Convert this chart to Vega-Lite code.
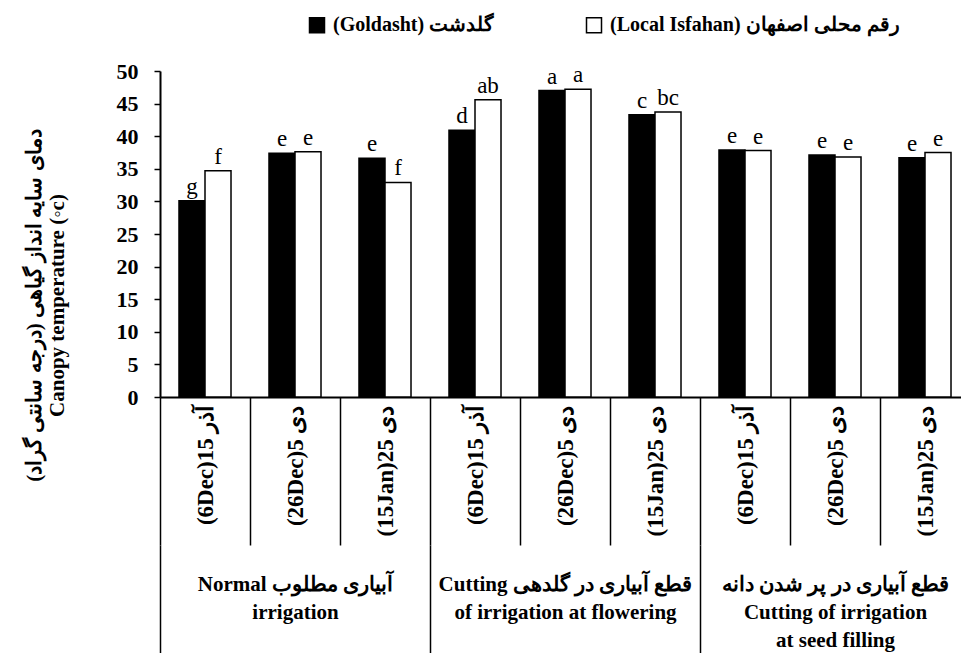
{
  "$schema": "https://vega.github.io/schema/vega-lite/v6.json",
  "width": 801,
  "height": 326,
  "autosize": {"type": "none"},
  "padding": {"left": 160, "top": 71, "right": 0, "bottom": 256},
  "background": "white",
  "config": {"view": {"stroke": null}, "font": "Liberation Serif"},
  "datasets": {
    "bars": [
      {"cat": "N1|(6Dec)15 آذر", "cultivar": "(Goldasht) گلدشت", "value": 30.1, "letter": "g"},
      {"cat": "N1|(6Dec)15 آذر", "cultivar": "(Local Isfahan) رقم محلی اصفهان", "value": 34.7, "letter": "f"},
      {"cat": "N2|(26Dec)5 دی", "cultivar": "(Goldasht) گلدشت", "value": 37.4, "letter": "e"},
      {"cat": "N2|(26Dec)5 دی", "cultivar": "(Local Isfahan) رقم محلی اصفهان", "value": 37.6, "letter": "e"},
      {"cat": "N3|(15Jan)25 دی", "cultivar": "(Goldasht) گلدشت", "value": 36.6, "letter": "e"},
      {"cat": "N3|(15Jan)25 دی", "cultivar": "(Local Isfahan) رقم محلی اصفهان", "value": 32.9, "letter": "f"},
      {"cat": "F1|(6Dec)15 آذر", "cultivar": "(Goldasht) گلدشت", "value": 40.9, "letter": "d"},
      {"cat": "F1|(6Dec)15 آذر", "cultivar": "(Local Isfahan) رقم محلی اصفهان", "value": 45.6, "letter": "ab"},
      {"cat": "F2|(26Dec)5 دی", "cultivar": "(Goldasht) گلدشت", "value": 47.0, "letter": "a"},
      {"cat": "F2|(26Dec)5 دی", "cultivar": "(Local Isfahan) رقم محلی اصفهان", "value": 47.2, "letter": "a"},
      {"cat": "F3|(15Jan)25 دی", "cultivar": "(Goldasht) گلدشت", "value": 43.3, "letter": "c"},
      {"cat": "F3|(15Jan)25 دی", "cultivar": "(Local Isfahan) رقم محلی اصفهان", "value": 43.7, "letter": "bc"},
      {"cat": "S1|(6Dec)15 آذر", "cultivar": "(Goldasht) گلدشت", "value": 37.9, "letter": "e"},
      {"cat": "S1|(6Dec)15 آذر", "cultivar": "(Local Isfahan) رقم محلی اصفهان", "value": 37.8, "letter": "e"},
      {"cat": "S2|(26Dec)5 دی", "cultivar": "(Goldasht) گلدشت", "value": 37.1, "letter": "e"},
      {"cat": "S2|(26Dec)5 دی", "cultivar": "(Local Isfahan) رقم محلی اصفهان", "value": 36.8, "letter": "e"},
      {"cat": "S3|(15Jan)25 دی", "cultivar": "(Goldasht) گلدشت", "value": 36.7, "letter": "e"},
      {"cat": "S3|(15Jan)25 دی", "cultivar": "(Local Isfahan) رقم محلی اصفهان", "value": 37.5, "letter": "e"}
    ],
    "groups": [
      {"group": "Normal  آبیاری مطلوب|irrigation"},
      {"group": "Cutting  قطع آبیاری در گلدهی|of irrigation at flowering"},
      {"group": "قطع آبیاری در پر شدن دانه|Cutting of irrigation|at seed filling"}
    ]
  },
  "layer": [
    {
      "data": {"name": "bars"},
      "encoding": {
        "x": {
          "field": "cat", "type": "nominal", "sort": null, "title": null,
          "scale": {"paddingInner": 0, "paddingOuter": 0, "range": [0, 810]},
          "axis": {
            "orient": "bottom",
            "labelExpr": "split(datum.label, '|')[1]",
            "labelAngle": -90, "labelAlign": "right", "labelBaseline": "middle",
            "labelFont": "Liberation Serif", "labelFontSize": 23, "labelFontWeight": "bold",
            "labelColor": "black", "labelPadding": -140, "labelLimit": 0, "labelOverlap": false,
            "tickBand": "extent", "tickSize": 148, "tickColor": "black", "tickWidth": 1.5,
            "domainColor": "black", "domainWidth": 2
          }
        },
        "xOffset": {"field": "cultivar", "type": "nominal", "sort": null, "scale": {"paddingInner": 0, "paddingOuter": 0.73}},
        "y": {
          "field": "value", "type": "quantitative",
          "scale": {"domain": [0, 50], "nice": false},
          "axis": {
            "values": [0, 5, 10, 15, 20, 25, 30, 35, 40, 45, 50],
            "grid": false, "domainColor": "black", "domainWidth": 2,
            "tickColor": "black", "tickWidth": 1.5, "tickSize": 6,
            "labelFont": "Liberation Serif", "labelFontSize": 22, "labelFontWeight": "bold",
            "labelColor": "black", "labelPadding": 16,
            "title": ["دمای سایه انداز گیاهی (درجه سانتی گراد)‏", "Canopy temperature (◦c)"],
            "titleFont": "Liberation Serif", "titleFontSize": 21, "titleFontWeight": "bold",
            "titleColor": "black", "titleAngle": -90, "titleX": -126, "titleY": 234,
            "titleAlign": "center", "titleBaseline": "middle", "titleLineHeight": 23
          }
        }
      },
      "layer": [
        {
          "mark": {"type": "bar", "stroke": "black", "strokeWidth": 1.5},
          "encoding": {
            "color": {
              "field": "cultivar", "type": "nominal", "sort": null,
              "scale": {"domain": ["(Goldasht) گلدشت", "(Local Isfahan) رقم محلی اصفهان"], "range": ["black", "white"]},
              "legend": {
                "orient": "none", "legendX": 147, "legendY": -56, "direction": "horizontal",
                "title": null, "symbolType": "square", "symbolSize": 225,
                "symbolStrokeColor": "black", "symbolStrokeWidth": 1.5,
                "labelFont": "Liberation Serif", "labelFontSize": 20, "labelFontWeight": "bold",
                "labelColor": "black", "columnPadding": 88, "labelOffset": 6, "labelLimit": 0, "padding": 0
              }
            }
          }
        },
        {
          "mark": {"type": "text", "baseline": "alphabetic", "dy": -7, "fontSize": 23, "font": "Liberation Serif", "color": "black"},
          "encoding": {"text": {"field": "letter"}}
        }
      ]
    },
    {
      "data": {"name": "groups"},
      "mark": {"type": "point", "opacity": 0},
      "encoding": {
        "x": {
          "field": "group", "type": "nominal", "sort": null, "title": null,
          "scale": {"paddingInner": 0, "paddingOuter": 0, "range": [0, 810]},
          "axis": {
            "orient": "bottom", "offset": 148, "domain": false,
            "tickBand": "extent", "tickSize": 110, "tickColor": "black", "tickWidth": 1.5,
            "labelAngle": 0, "labelAlign": "center", "labelBaseline": "top",
            "labelExpr": "split(datum.label, '|')",
            "labelFont": "Liberation Serif", "labelFontWeight": "bold", "labelFontSize": 21,
            "labelColor": "black", "labelLineHeight": 28, "labelPadding": -82,
            "labelLimit": 0, "labelOverlap": false
          }
        }
      }
    }
  ],
  "resolve": {"scale": {"x": "independent"}}
}
